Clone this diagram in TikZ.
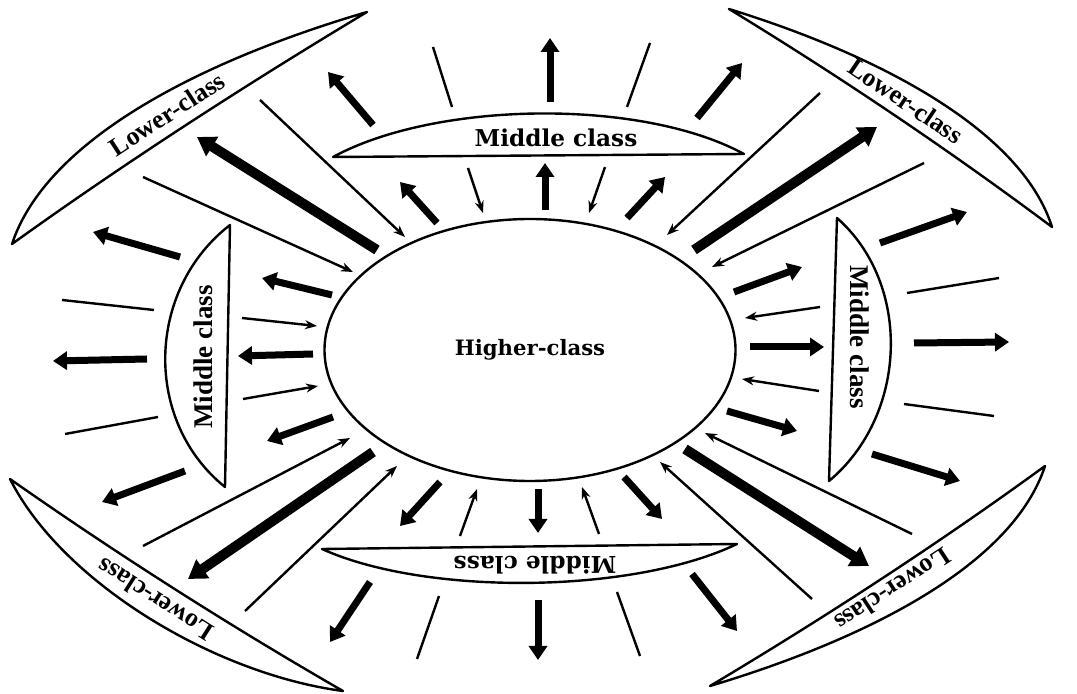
\documentclass[tikz,border=0pt]{standalone}
\usepackage{fontspec}
\setmainfont{Liberation Serif}
\newfontfamily\wideserif{DejaVu Serif}
\usetikzlibrary{arrows.meta,shapes.geometric}

\begin{document}
\begin{tikzpicture}[
  x=0.5pt, y=-0.5pt,
  lens/.style={draw=black, line width=1.2pt, line join=round},
  classtext/.style={font=\wideserif\bfseries\fontsize{11.6}{13}\selectfont, inner sep=0pt},
  sidetext/.style={font=\bfseries\fontsize{13.5}{15}\selectfont, inner sep=0pt},
  lowtext/.style={font=\bfseries\fontsize{13}{15}\selectfont, inner sep=0pt},
  thinline/.style={line width=1.2pt},
  thinarrow/.style={line width=1.2pt, -{Stealth[length=6pt,width=4.5pt]}},
  thickarrow/.style={line width=3.5pt, -{Triangle[length=7pt,width=9pt]}},
  heavyarrow/.style={line width=5pt, -{Triangle[length=9pt,width=11pt]}}
]
  \fill[white] (0,0) rectangle (1077,694);
  \useasboundingbox (0,0) rectangle (1077,694);

  % Higher class in the centre
  \node[ellipse, draw, line width=1.2pt, minimum width=205.5pt, minimum height=131pt, classtext, font=\wideserif\bfseries\fontsize{10.6}{12}\selectfont] (hc) at (530,350) {Higher-class};

  % Middle class lenses
  \draw[lens] (333,157) .. controls (436,101) and (641,98) .. (744,154) -- cycle;
  \draw[lens] (322,549) -- (737,544) .. controls (633,594) and (426,596) .. cycle;
  \draw[lens] (230,225) -- (225,487) .. controls (143,421) and (146,290) .. cycle;
  \draw[lens] (837,218) .. controls (912,284) and (908,415) .. (829,481) -- cycle;
  \node[classtext] (mtop) at (556,138) {Middle class};
  \node[classtext, rotate=180] (mbot) at (535,565) {Middle class};
  \node[sidetext, rotate=90] (mleft) at (203,357) {Middle class};
  \node[sidetext, rotate=-90] (mright) at (860,337) {Middle class};

  % Lower class lenses
  \draw[lens] (12,244) .. controls (46,141) and (197,62) .. (367,12) .. controls (247,84) and (126,162) .. cycle;
  \draw[lens] (1052,227) .. controls (1022,132) and (884,57) .. (729,9) .. controls (839,76) and (949,150) .. cycle;
  \draw[lens] (10,479) .. controls (62,582) and (214,674) .. (343,691) .. controls (230,626) and (117,554) .. cycle;
  \draw[lens] (1045,466) .. controls (1013,564) and (870,638) .. (710,686) .. controls (824,618) and (938,544) .. cycle;
  \node[lowtext, rotate=33] (lul) at (167,114) {Lower-class};
  \node[lowtext, rotate=-34] (lur) at (906,101) {Lower-class};
  \node[lowtext, rotate=147.5] (lll) at (155,600) {Lower-class};
  \node[lowtext, rotate=213] (llr) at (893,590) {Lower-class};

  % Outward flows
  \draw[thickarrow] (373,125) -- (328,72);
  \draw[thickarrow] (550,102) -- (550,38);
  \draw[thickarrow] (697,118) -- (742,63);
  \draw[thickarrow] (437,223) -- (400,182);
  \draw[thickarrow] (545,210) -- (545,163);
  \draw[thickarrow] (627,218) -- (665,177);
  \draw[thickarrow] (880,243) -- (967,212);
  \draw[thickarrow] (734,292) -- (802,267);
  \draw[thickarrow] (750,347) -- (824,347);
  \draw[thickarrow] (914,343) -- (1009,342);
  \draw[thickarrow] (727,411) -- (797,431);
  \draw[thickarrow] (872,454) -- (960,481);
  \draw[thickarrow] (624,477) -- (662,519);
  \draw[thickarrow] (538,489) -- (538,533);
  \draw[thickarrow] (440,482) -- (400,526);
  \draw[thickarrow] (692,574) -- (737,631);
  \draw[thickarrow] (538,600) -- (538,660);
  \draw[thickarrow] (370,582) -- (330,642);
  \draw[thickarrow] (185,471) -- (102,502);
  \draw[thickarrow] (333,417) -- (267,441);
  \draw[thickarrow] (313,354) -- (238,356);
  \draw[thickarrow] (147,359) -- (53,361);
  \draw[thickarrow] (332,295) -- (262,278);
  \draw[thickarrow] (180,257) -- (93,232);

  % Long flows to lower class
  \draw[heavyarrow] (377,250) -- (197,137);
  \draw[heavyarrow] (694,250) -- (877,127);
  \draw[heavyarrow] (373,452) -- (188,579);
  \draw[heavyarrow] (685,449) -- (869,566);

  % Inward flows
  \draw[thinarrow] (260,100) -- (405,237);
  \draw[thinarrow] (143,177) -- (353,272);
  \draw[thinarrow] (468,168) -- (483,213);
  \draw[thinarrow] (605,167) -- (589,213);
  \draw[thinarrow] (820,93) -- (667,235);
  \draw[thinarrow] (924,163) -- (712,267);
  \draw[thinarrow] (820,307) -- (745,318);
  \draw[thinarrow] (242,318) -- (317,326);
  \draw[thinarrow] (243,399) -- (318,386);
  \draw[thinarrow] (819,391) -- (742,379);
  \draw[thinarrow] (143,546) -- (350,438);
  \draw[thinarrow] (245,611) -- (397,466);
  \draw[thinarrow] (460,536) -- (477,489);
  \draw[thinarrow] (599,534) -- (582,487);
  \draw[thinarrow] (912,534) -- (705,433);
  \draw[thinarrow] (812,599) -- (660,462);

  % Plain strokes
  \draw[thinline] (433,47) -- (452,107);
  \draw[thinline] (650,43) -- (627,107);
  \draw[thinline] (62,300) -- (154,310);
  \draw[thinline] (907,293) -- (999,278);
  \draw[thinline] (65,434) -- (158,417);
  \draw[thinline] (904,404) -- (994,416);
  \draw[thinline] (439,596) -- (417,659);
  \draw[thinline] (617,592) -- (640,656);
\end{tikzpicture}
\end{document}
